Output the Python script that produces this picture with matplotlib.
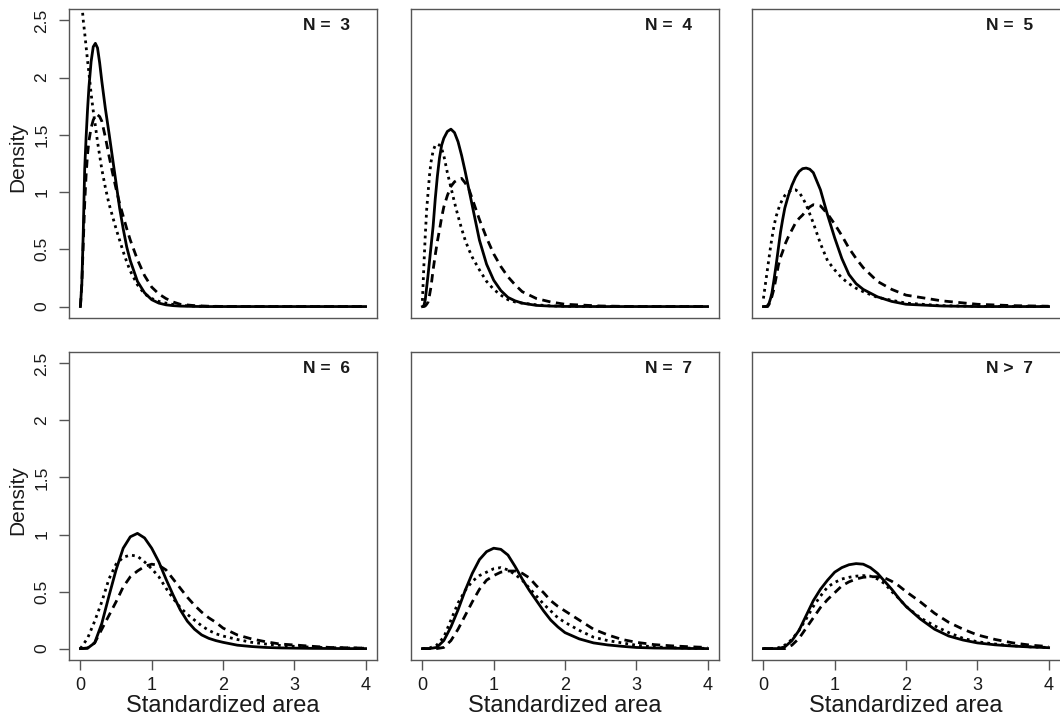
import matplotlib.pyplot as plt

plt.rcParams['font.family'] = ['Liberation Sans', 'DejaVu Sans']

# x positions where the curves were read (top row has a finer grid near 0)
x_top = [0, 0.02, 0.04, 0.06, 0.08, 0.1, 0.12, 0.15, 0.18, 0.21, 0.24, 0.27, 0.3,
         0.35, 0.4, 0.45, 0.5, 0.55, 0.6, 0.65, 0.7, 0.8, 0.9, 1.0, 1.1, 1.2, 1.3,
         1.4, 1.6, 1.8, 2.0, 2.5, 3.0, 3.5, 4.0]
x_bot = [0, 0.1, 0.2, 0.3, 0.4, 0.5, 0.6, 0.7, 0.8, 0.9, 1.0, 1.1, 1.2, 1.3, 1.4,
         1.5, 1.6, 1.7, 1.8, 1.9, 2.0, 2.2, 2.4, 2.6, 2.8, 3.0, 3.25, 3.5, 3.75, 4.0]

panel_labels = ["N =  3", "N =  4", "N =  5", "N =  6", "N =  7", "N >  7"]

# N = 3
n3_solid = [0, 0.2, 0.65, 1.2, 1.48, 1.72, 1.92, 2.14, 2.27, 2.3, 2.26, 2.13, 1.97,
            1.73, 1.52, 1.3, 1.08, 0.86, 0.68, 0.52, 0.4, 0.22, 0.12, 0.06, 0.03, 0.015,
            0.008, 0.004, 0.001, 0, 0, 0, 0, 0, 0]
n3_dashed = [0, 0.2, 0.55, 0.9, 1.15, 1.33, 1.45, 1.56, 1.63, 1.665, 1.675, 1.66, 1.62,
             1.48, 1.32, 1.17, 1.03, 0.9, 0.79, 0.68, 0.58, 0.41, 0.27, 0.17, 0.11, 0.07,
             0.04, 0.02, 0.008, 0.003, 0.001, 0, 0, 0, 0]
n3_dotted = [3.0, 2.65, 2.5, 2.39, 2.27, 2.15, 2.04, 1.86, 1.71, 1.58, 1.44, 1.32, 1.2,
             1.04, 0.9, 0.79, 0.68, 0.58, 0.48, 0.39, 0.31, 0.19, 0.11, 0.07, 0.045, 0.03,
             0.018, 0.01, 0.004, 0.001, 0, 0, 0, 0, 0]

# N = 4
n4_solid = [0, 0.005, 0.06, 0.17, 0.28, 0.4, 0.52, 0.7, 0.94, 1.14, 1.3, 1.41, 1.47,
            1.53, 1.55, 1.52, 1.44, 1.32, 1.18, 1.03, 0.88, 0.58, 0.37, 0.23, 0.14, 0.08,
            0.05, 0.03, 0.01, 0.004, 0.001, 0, 0, 0, 0]
n4_dashed = [0, 0, 0.005, 0.02, 0.04, 0.1, 0.17, 0.32, 0.45, 0.57, 0.67, 0.78, 0.87,
             0.97, 1.05, 1.09, 1.11, 1.12, 1.08, 1.03, 0.94, 0.76, 0.6, 0.46, 0.35, 0.26,
             0.19, 0.13, 0.07, 0.04, 0.02, 0.005, 0, 0, 0]
n4_dotted = [0.05, 0.35, 0.62, 0.85, 1.0, 1.15, 1.26, 1.36, 1.41, 1.42, 1.41, 1.38, 1.32,
             1.17, 1.04, 0.91, 0.79, 0.68, 0.58, 0.5, 0.43, 0.32, 0.22, 0.15, 0.1, 0.06,
             0.04, 0.03, 0.015, 0.006, 0.003, 0, 0, 0, 0]

# N = 5
n5_solid = [0, 0, 0, 0.01, 0.03, 0.07, 0.12, 0.24, 0.37, 0.51, 0.65, 0.76, 0.86,
            0.97, 1.06, 1.13, 1.18, 1.205, 1.21, 1.2, 1.17, 1.02, 0.8, 0.6, 0.42, 0.28,
            0.2, 0.15, 0.085, 0.045, 0.02, 0.005, 0, 0, 0]
n5_dashed = [0, 0, 0, 0, 0.02, 0.05, 0.09, 0.16, 0.26, 0.36, 0.43, 0.48, 0.54,
             0.61, 0.67, 0.73, 0.77, 0.8, 0.84, 0.87, 0.89, 0.88, 0.81, 0.72, 0.62, 0.51,
             0.42, 0.34, 0.22, 0.15, 0.1, 0.05, 0.02, 0.008, 0.003]
n5_dotted = [0.07, 0.16, 0.25, 0.34, 0.43, 0.52, 0.6, 0.71, 0.79, 0.85, 0.9, 0.94, 0.97,
             1.0, 1.02, 1.02, 1.0, 0.95, 0.89, 0.81, 0.73, 0.55, 0.4, 0.32, 0.25, 0.2,
             0.16, 0.13, 0.08, 0.055, 0.03, 0.008, 0.002, 0, 0]

# N = 6
n6_solid = [0, 0.003, 0.05, 0.22, 0.46, 0.69, 0.88, 0.98, 1.01, 0.97, 0.88, 0.76, 0.61,
            0.47, 0.34, 0.24, 0.17, 0.12, 0.09, 0.07, 0.055, 0.03, 0.018, 0.01, 0.006,
            0.004, 0.002, 0.001, 0, 0]
n6_dashed = [0, 0.005, 0.05, 0.17, 0.29, 0.41, 0.54, 0.63, 0.68, 0.72, 0.74, 0.73, 0.69,
             0.61, 0.53, 0.45, 0.38, 0.32, 0.27, 0.23, 0.18, 0.12, 0.085, 0.06, 0.04,
             0.032, 0.02, 0.01, 0.007, 0.004]
n6_dotted = [0, 0.09, 0.24, 0.41, 0.61, 0.74, 0.8, 0.82, 0.81, 0.76, 0.7, 0.63, 0.53,
             0.44, 0.36, 0.3, 0.25, 0.2, 0.16, 0.13, 0.11, 0.08, 0.055, 0.04, 0.028,
             0.02, 0.012, 0.008, 0.005, 0.003]

# N = 7
n7_solid = [0, 0, 0.01, 0.07, 0.19, 0.34, 0.51, 0.66, 0.78, 0.85, 0.88, 0.87, 0.82,
            0.72, 0.61, 0.51, 0.42, 0.33, 0.25, 0.19, 0.14, 0.085, 0.05, 0.032, 0.02,
            0.01, 0.005, 0.003, 0.001, 0]
n7_dashed = [0, 0, 0, 0.01, 0.07, 0.17, 0.29, 0.41, 0.52, 0.6, 0.64, 0.67, 0.68,
             0.68, 0.66, 0.62, 0.55, 0.49, 0.42, 0.37, 0.33, 0.25, 0.17, 0.12, 0.08,
             0.055, 0.035, 0.024, 0.016, 0.01]
n7_dotted = [0, 0.005, 0.03, 0.1, 0.25, 0.4, 0.51, 0.59, 0.64, 0.67, 0.7, 0.71, 0.69,
             0.65, 0.6, 0.53, 0.46, 0.39, 0.33, 0.27, 0.23, 0.16, 0.1, 0.07, 0.05,
             0.03, 0.015, 0.008, 0.004, 0.002]

# N > 7
n8_solid = [0, 0, 0, 0.015, 0.07, 0.16, 0.29, 0.42, 0.52, 0.6, 0.67, 0.71, 0.735,
            0.745, 0.74, 0.71, 0.66, 0.59, 0.52, 0.44, 0.37, 0.26, 0.17, 0.11, 0.075,
            0.05, 0.033, 0.022, 0.014, 0.008]
n8_dashed = [0, 0, 0, 0, 0.03, 0.09, 0.18, 0.27, 0.36, 0.43, 0.49, 0.55, 0.585,
             0.61, 0.625, 0.63, 0.63, 0.62, 0.59, 0.55, 0.5, 0.41, 0.31, 0.23, 0.17,
             0.12, 0.08, 0.05, 0.03, 0.018]
n8_dotted = [0, 0, 0.005, 0.03, 0.08, 0.16, 0.26, 0.37, 0.46, 0.54, 0.58, 0.61, 0.625,
             0.635, 0.64, 0.635, 0.61, 0.57, 0.5, 0.44, 0.37, 0.27, 0.2, 0.14, 0.09,
             0.06, 0.04, 0.025, 0.015, 0.01]

panels = [
    (x_top, n3_solid, n3_dashed, n3_dotted),
    (x_top, n4_solid, n4_dashed, n4_dotted),
    (x_top, n5_solid, n5_dashed, n5_dotted),
    (x_bot, n6_solid, n6_dashed, n6_dotted),
    (x_bot, n7_solid, n7_dashed, n7_dotted),
    (x_bot, n8_solid, n8_dashed, n8_dotted),
]

W, H = 1060, 725
fig = plt.figure(figsize=(W / 100, H / 100), dpi=100)

lefts = [69, 411, 752]
rows = [(9, 318), (352, 660)]
frame = '#555555'
text_col = '#1a1a1a'

for i, (xs, solid, dashed, dotted) in enumerate(panels):
    r, c = divmod(i, 3)
    top, bottom = rows[r]
    ax = fig.add_axes([lefts[c] / W, 1 - bottom / H, 308 / W, (bottom - top) / H])

    ax.plot(xs, solid, color='black', lw=2.0, solid_joinstyle='round')
    ax.plot(xs, dashed, color='black', lw=2.0, dashes=(3, 2))
    ax.plot(xs, dotted, color='black', lw=2.0, dashes=(1, 1.5))

    ax.set_xlim(-0.16, 4.16)
    ax.set_ylim(-0.1, 2.6)
    for sp in ax.spines.values():
        sp.set_color(frame)
        sp.set_linewidth(1.0)
    if c == 2:
        # the right-hand column is cut off at the image edge
        ax.spines['right'].set_visible(False)

    ax.text(0.912, 0.948, panel_labels[i], transform=ax.transAxes, ha='right',
            va='center', fontsize=12.5, fontweight='bold', color=text_col)

    if r == 1:
        ax.set_xticks([0, 1, 2, 3, 4])
        ax.set_xticklabels(['0', '1', '2', '3', '4'])
        ax.tick_params(axis='x', length=7, width=1.0, color=frame, pad=5,
                       labelsize=13, labelcolor=text_col)
        cx = (lefts[c] + 154) / W
        fig.text(cx, 1 - 706 / H, 'Standardized area', ha='center', va='center',
                 fontsize=17, color=text_col)
    else:
        ax.set_xticks([])

    if c == 0:
        ax.set_yticks([0, 0.5, 1, 1.5, 2, 2.5])
        ax.set_yticklabels(['0', '0.5', '1', '1.5', '2', '2.5'], rotation=90, va='center')
        ax.tick_params(axis='y', length=7, width=1.0, color=frame, pad=7,
                       labelsize=12.5, labelcolor=text_col)
        cy = 1 - (157 + (343 if r == 1 else 0)) / H
        fig.text(18 / W, cy, 'Density', rotation=90, ha='center', va='center',
                 fontsize=15, color=text_col)
    else:
        ax.set_yticks([])

plt.savefig('out.png', dpi=100)
